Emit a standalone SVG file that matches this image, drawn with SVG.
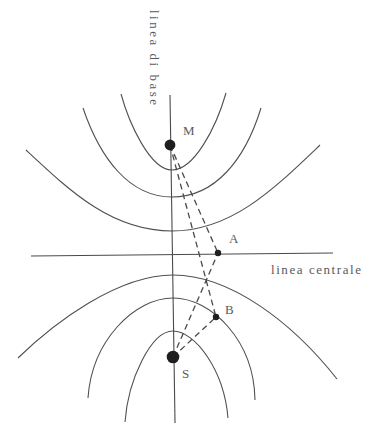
<svg xmlns="http://www.w3.org/2000/svg" width="366" height="424" viewBox="0 0 366 424">
<style>
.ln{fill:none;stroke:#4a4a4a;stroke-width:1.1}
.cv{fill:none;stroke:#505050;stroke-width:1.1}
.ds{fill:none;stroke:#4a4a4a;stroke-width:1.3;stroke-dasharray:6 4}
.dot{fill:#1e1e1e}
.t{font-family:"Liberation Serif","Times New Roman",serif;font-size:13px;fill:#5a5a5a}
</style>
<rect width="366" height="424" fill="#ffffff"/>
<g id="curves">
<path id="u1" class="cv" d="M121,94 C129,123 150,170 172,170 C194,170 216,128 226,93"/>
<path id="u2" class="cv" d="M83,108 C100,158 129,197 172,197 C215,197 245,160 261,108"/>
<path id="u3" class="cv" d="M26,150 C71,192 112,231 172,231 C232,231 275,188 320,145"/>
<path id="l1" class="cv" d="M18,358 C55,322 118,275 173,275 C230,275 292,322 337,379"/>
<path id="l2" class="cv" d="M88,398 C92,340 135,298 173,298 C211,298 254,340 255,400"/>
<path id="l3" class="cv" d="M125,422 C128,380 151,331 173,331 C195,331 224,370 228,418"/>
</g>
<g id="axes">
<line id="linea-di-base" class="ln" x1="170" y1="95" x2="175" y2="423"/>
<line id="linea-centrale" class="ln" x1="31" y1="256" x2="333" y2="253"/>
</g>
<g id="connectors">
<line class="ds" x1="170" y1="145" x2="218" y2="253"/>
<line class="ds" x1="170" y1="145" x2="216" y2="317"/>
<line class="ds" x1="173" y1="357" x2="218" y2="253"/>
<line class="ds" x1="173" y1="357" x2="216" y2="317"/>
</g>
<g id="M"><circle class="dot" cx="170" cy="145" r="5.4"/><text class="t" x="183" y="135">M</text></g>
<g id="S"><circle class="dot" cx="173" cy="357" r="6.3"/><text class="t" x="182" y="378">S</text></g>
<g id="A"><circle class="dot" cx="218" cy="253" r="3.2"/><text class="t" x="229" y="243">A</text></g>
<g id="B"><circle class="dot" cx="216" cy="317" r="3.2"/><text class="t" x="225" y="314">B</text></g>
<g id="labels">
<text class="t" x="271" y="274" textLength="90" lengthAdjust="spacing">linea centrale</text>
<text class="t" transform="translate(150,10) rotate(90)" x="0" y="0" textLength="95" lengthAdjust="spacing">linea di base</text>
</g>
</svg>
